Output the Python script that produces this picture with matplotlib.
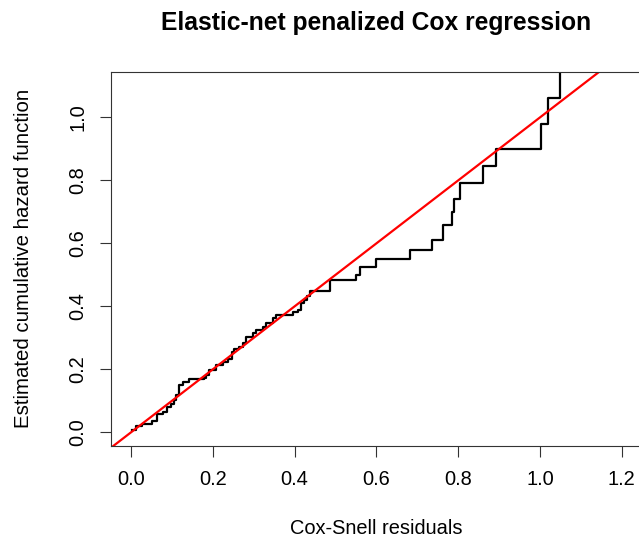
import matplotlib
matplotlib.use("Agg")
import matplotlib.pyplot as plt

# Cox-Snell residual times and estimated cumulative hazard
resid = [0.003, 0.011, 0.028, 0.052, 0.064, 0.077, 0.089, 0.097, 0.105, 0.109,
         0.118, 0.126, 0.142, 0.179, 0.183, 0.191, 0.207, 0.224, 0.236, 0.248,
         0.252, 0.264, 0.273, 0.281, 0.297, 0.305, 0.322, 0.330, 0.346, 0.354,
         0.395, 0.407, 0.416, 0.424, 0.430, 0.437, 0.486, 0.551, 0.559, 0.599,
         0.681, 0.737, 0.762, 0.784, 0.790, 0.805, 0.860, 0.892, 1.002, 1.019,
         1.048]
cumhaz = [0.008, 0.021, 0.027, 0.037, 0.059, 0.064, 0.080, 0.090, 0.101, 0.117,
          0.149, 0.160, 0.170, 0.173, 0.181, 0.197, 0.213, 0.223, 0.234, 0.255,
          0.266, 0.271, 0.282, 0.303, 0.314, 0.324, 0.335, 0.346, 0.362, 0.372,
          0.383, 0.388, 0.410, 0.420, 0.434, 0.449, 0.485, 0.500, 0.525, 0.549,
          0.579, 0.612, 0.657, 0.699, 0.742, 0.792, 0.847, 0.901, 0.978, 1.063,
          1.250]

xticks = [0.0, 0.2, 0.4, 0.6, 0.8, 1.0, 1.2]
yticks = [0.0, 0.2, 0.4, 0.6, 0.8, 1.0]

plt.rcParams['font.family'] = ['Liberation Sans', 'DejaVu Sans']

W, H = 639, 548
fig = plt.figure(figsize=(W / 100, H / 100), dpi=100)
# plot region in pixels: left 111, right 655 (beyond canvas), top 72, bottom 446
ax = fig.add_axes([111 / W, (H - 446) / H, (655 - 111) / W, (446 - 72) / H])

ax.step(resid, cumhaz, where='post', color='black', lw=1.6)
ax.axline((0, 0), slope=1, color='red', lw=1.6)

ax.set_xlim(-0.049, 1.281)
ax.set_ylim(-0.0435, 1.144)
ax.set_xticks(xticks)
ax.set_yticks(yticks)
ax.set_xticklabels([f"{v:.1f}" for v in xticks])
ax.set_yticklabels([f"{v:.1f}" for v in yticks], rotation=90, va='center')
ax.tick_params(direction='out', length=8, width=0.8, labelsize=14.4,
               color='#333333', pad=9)
for s in ax.spines.values():
    s.set_color('#333333')
    s.set_linewidth(0.8)

fig.text(376 / W, 1 - 23 / H, "Elastic-net penalized Cox regression",
         ha='center', va='center', fontsize=17.7, fontweight='bold')
fig.text(376 / W, 1 - 528 / H, "Cox-Snell residuals",
         ha='center', va='center', fontsize=14.4)
fig.text(24 / W, 1 - 258 / H, "Estimated cumulative hazard function",
         ha='center', va='center', rotation=90, fontsize=14.7)

fig.savefig("out.png", dpi=100)
